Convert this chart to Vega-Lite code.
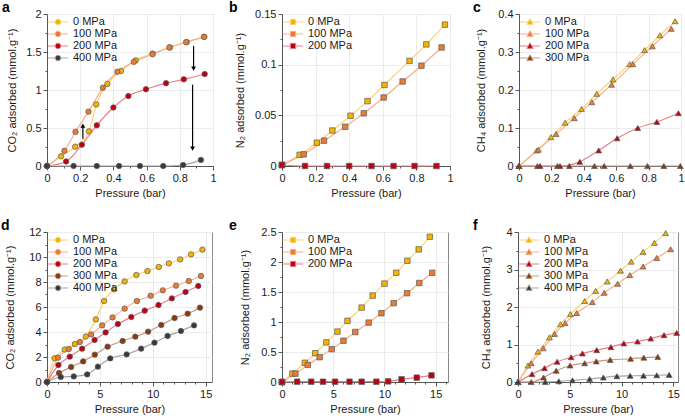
{
"$schema":"https://vega.github.io/schema/vega-lite/v6.json",
"padding":{"left":0,"top":0,"right":0,"bottom":0},
"config":{
 "font":"Liberation Sans",
 "view":{"stroke":"#8a8a8a","strokeWidth":1},
 "axis":{"labelFontSize":11,"titleFontSize":11,"labelColor":"#1a1a1a","titleColor":"#1a1a1a","titleFontWeight":"normal","domainColor":"#555","tickColor":"#555","gridColor":"#ebebeb","labelPadding":2,"titlePadding":4,"labelOverlap":false,"tickCount":100},
 "legend":{"orient":"top-left","offset":1,"padding":0,"labelOffset":8,"rowPadding":0,"symbolOffset":3,"symbolSize":160,"symbolStrokeWidth":1,"labelFontSize":11,"labelColor":"#1a1a1a"},
 "title":{"fontSize":14,"fontWeight":"bold","anchor":"start","frame":"group","offset":-7,"baseline":"alphabetic","color":"#000"}
},
"datasets":{
 "arrows":[{"x":0.216,"y":0.36,"y2":0.53,"dir":"up"},{"x":0.883,"y":1.58,"y2":1.28,"dir":"down"},{"x":0.877,"y":1.07,"y2":0.23,"dir":"down"}],
 "a":[
  {"p":"0 MPa","x":0,"y":0},{"p":"0 MPa","x":0.085,"y":0.127},{"p":"0 MPa","x":0.17,"y":0.254},{"p":"0 MPa","x":0.253,"y":0.456},{"p":"0 MPa","x":0.297,"y":0.81},{"p":"0 MPa","x":0.364,"y":1.08},{"p":"0 MPa","x":0.446,"y":1.25},{"p":"0 MPa","x":0.535,"y":1.39},{"p":"0 MPa","x":0.636,"y":1.48},{"p":"0 MPa","x":0.741,"y":1.56},{"p":"0 MPa","x":0.842,"y":1.63},{"p":"0 MPa","x":0.947,"y":1.70},
  {"p":"100 MPa","x":0,"y":0},{"p":"100 MPa","x":0.105,"y":0.20},{"p":"100 MPa","x":0.172,"y":0.45},{"p":"100 MPa","x":0.25,"y":0.715},{"p":"100 MPa","x":0.337,"y":1.03},{"p":"100 MPa","x":0.424,"y":1.24},{"p":"100 MPa","x":0.523,"y":1.37},{"p":"100 MPa","x":0.636,"y":1.47},{"p":"100 MPa","x":0.737,"y":1.56},{"p":"100 MPa","x":0.838,"y":1.63},{"p":"100 MPa","x":0.947,"y":1.70},
  {"p":"200 MPa","x":0,"y":0},{"p":"200 MPa","x":0.115,"y":0.06},{"p":"200 MPa","x":0.21,"y":0.28},{"p":"200 MPa","x":0.30,"y":0.535},{"p":"200 MPa","x":0.40,"y":0.77},{"p":"200 MPa","x":0.49,"y":0.92},{"p":"200 MPa","x":0.596,"y":1.01},{"p":"200 MPa","x":0.717,"y":1.09},{"p":"200 MPa","x":0.824,"y":1.14},{"p":"200 MPa","x":0.95,"y":1.21},
  {"p":"400 MPa","x":0,"y":0},{"p":"400 MPa","x":0.16,"y":0},{"p":"400 MPa","x":0.30,"y":0},{"p":"400 MPa","x":0.434,"y":0},{"p":"400 MPa","x":0.56,"y":0},{"p":"400 MPa","x":0.70,"y":0},{"p":"400 MPa","x":0.82,"y":0.013},{"p":"400 MPa","x":0.927,"y":0.08}
 ],
 "b":[
  {"p":"0 MPa","x":0,"y":0.001},{"p":"0 MPa","x":0.105,"y":0.011},{"p":"0 MPa","x":0.207,"y":0.023},{"p":"0 MPa","x":0.30,"y":0.035},{"p":"0 MPa","x":0.408,"y":0.0496},{"p":"0 MPa","x":0.509,"y":0.064},{"p":"0 MPa","x":0.61,"y":0.080},{"p":"0 MPa","x":0.759,"y":0.1037},{"p":"0 MPa","x":0.859,"y":0.12},{"p":"0 MPa","x":0.97,"y":0.1395},
  {"p":"100 MPa","x":0,"y":0.001},{"p":"100 MPa","x":0.129,"y":0.0115},{"p":"100 MPa","x":0.25,"y":0.025},{"p":"100 MPa","x":0.376,"y":0.0387},{"p":"100 MPa","x":0.487,"y":0.052},{"p":"100 MPa","x":0.605,"y":0.0676},{"p":"100 MPa","x":0.718,"y":0.0834},{"p":"100 MPa","x":0.83,"y":0.099},{"p":"100 MPa","x":0.95,"y":0.117},
  {"p":"200 MPa","x":0,"y":0.001},{"p":"200 MPa","x":0.137,"y":0},{"p":"200 MPa","x":0.268,"y":0},{"p":"200 MPa","x":0.40,"y":0},{"p":"200 MPa","x":0.533,"y":0},{"p":"200 MPa","x":0.664,"y":0},{"p":"200 MPa","x":0.789,"y":0},{"p":"200 MPa","x":0.92,"y":0}
 ],
 "c":[
  {"p":"0 MPa","x":0,"y":0},{"p":"0 MPa","x":0.11,"y":0.041},{"p":"0 MPa","x":0.197,"y":0.076},{"p":"0 MPa","x":0.285,"y":0.114},{"p":"0 MPa","x":0.386,"y":0.150},{"p":"0 MPa","x":0.48,"y":0.19},{"p":"0 MPa","x":0.58,"y":0.228},{"p":"0 MPa","x":0.683,"y":0.268},{"p":"0 MPa","x":0.775,"y":0.305},{"p":"0 MPa","x":0.87,"y":0.344},{"p":"0 MPa","x":0.964,"y":0.381},
  {"p":"100 MPa","x":0,"y":0},{"p":"100 MPa","x":0.12,"y":0.043},{"p":"100 MPa","x":0.229,"y":0.084},{"p":"100 MPa","x":0.341,"y":0.126},{"p":"100 MPa","x":0.45,"y":0.168},{"p":"100 MPa","x":0.572,"y":0.214},{"p":"100 MPa","x":0.703,"y":0.268},{"p":"100 MPa","x":0.823,"y":0.315},{"p":"100 MPa","x":0.94,"y":0.361},
  {"p":"200 MPa","x":0,"y":0},{"p":"200 MPa","x":0.13,"y":0},{"p":"200 MPa","x":0.253,"y":0},{"p":"200 MPa","x":0.375,"y":0.011},{"p":"200 MPa","x":0.492,"y":0.041},{"p":"200 MPa","x":0.606,"y":0.073},{"p":"200 MPa","x":0.733,"y":0.10},{"p":"200 MPa","x":0.851,"y":0.116},{"p":"200 MPa","x":0.984,"y":0.139},
  {"p":"300 MPa","x":0,"y":0},{"p":"300 MPa","x":0.114,"y":0},{"p":"300 MPa","x":0.237,"y":0},{"p":"300 MPa","x":0.311,"y":0},{"p":"300 MPa","x":0.466,"y":0},{"p":"300 MPa","x":0.526,"y":0},{"p":"300 MPa","x":0.687,"y":0},{"p":"300 MPa","x":0.793,"y":0},{"p":"300 MPa","x":0.894,"y":0},{"p":"300 MPa","x":0.996,"y":0}
 ],
 "d":[
  {"p":"0 MPa","x":0,"y":0},{"p":"0 MPa","x":0.72,"y":1.9},{"p":"0 MPa","x":1.68,"y":2.6},{"p":"0 MPa","x":2.63,"y":3.04},{"p":"0 MPa","x":3.67,"y":3.64},{"p":"0 MPa","x":4.62,"y":5.01},{"p":"0 MPa","x":5.4,"y":6.48},{"p":"0 MPa","x":6.35,"y":7.41},{"p":"0 MPa","x":7.34,"y":8.05},{"p":"0 MPa","x":8.45,"y":8.56},{"p":"0 MPa","x":9.5,"y":8.88},{"p":"0 MPa","x":10.57,"y":9.2},{"p":"0 MPa","x":11.52,"y":9.49},{"p":"0 MPa","x":12.6,"y":9.81},{"p":"0 MPa","x":13.62,"y":10.21},{"p":"0 MPa","x":14.7,"y":10.59},
  {"p":"100 MPa","x":0,"y":0},{"p":"100 MPa","x":1.04,"y":1.95},{"p":"100 MPa","x":2.06,"y":2.64},{"p":"100 MPa","x":3.1,"y":3.2},{"p":"100 MPa","x":4.18,"y":3.81},{"p":"100 MPa","x":5.22,"y":4.53},{"p":"100 MPa","x":6.2,"y":5.17},{"p":"100 MPa","x":7.34,"y":5.87},{"p":"100 MPa","x":8.5,"y":6.48},{"p":"100 MPa","x":9.8,"y":6.9},{"p":"100 MPa","x":10.95,"y":7.33},{"p":"100 MPa","x":12.2,"y":7.71},{"p":"100 MPa","x":13.4,"y":8.08},{"p":"100 MPa","x":14.56,"y":8.48},
  {"p":"200 MPa","x":0,"y":0},{"p":"200 MPa","x":1.08,"y":1.36},{"p":"200 MPa","x":2.15,"y":2.03},{"p":"200 MPa","x":3.32,"y":2.67},{"p":"200 MPa","x":4.5,"y":3.36},{"p":"200 MPa","x":5.54,"y":3.97},{"p":"200 MPa","x":6.7,"y":4.64},{"p":"200 MPa","x":7.97,"y":5.2},{"p":"200 MPa","x":9.24,"y":5.71},{"p":"200 MPa","x":10.54,"y":6.16},{"p":"200 MPa","x":11.8,"y":6.69},{"p":"200 MPa","x":13.1,"y":7.2},{"p":"200 MPa","x":14.3,"y":7.68},
  {"p":"300 MPa","x":0,"y":0},{"p":"300 MPa","x":1.14,"y":0.72},{"p":"300 MPa","x":2.28,"y":1.2},{"p":"300 MPa","x":3.42,"y":1.65},{"p":"300 MPa","x":4.52,"y":2.19},{"p":"300 MPa","x":5.73,"y":2.83},{"p":"300 MPa","x":7.15,"y":3.28},{"p":"300 MPa","x":8.35,"y":3.63},{"p":"300 MPa","x":9.56,"y":4.03},{"p":"300 MPa","x":10.8,"y":4.56},{"p":"300 MPa","x":12.06,"y":5.12},{"p":"300 MPa","x":13.3,"y":5.47},{"p":"300 MPa","x":14.46,"y":5.95},
  {"p":"400 MPa","x":0,"y":0},{"p":"400 MPa","x":1.3,"y":0.4},{"p":"400 MPa","x":2.53,"y":0.45},{"p":"400 MPa","x":3.8,"y":0.61},{"p":"400 MPa","x":4.81,"y":1.23},{"p":"400 MPa","x":5.98,"y":1.89},{"p":"400 MPa","x":7.53,"y":2.21},{"p":"400 MPa","x":8.9,"y":2.67},{"p":"400 MPa","x":10.16,"y":3.15},{"p":"400 MPa","x":11.4,"y":3.68},{"p":"400 MPa","x":12.66,"y":4.08},{"p":"400 MPa","x":13.9,"y":4.53}
 ],
 "e":[
  {"p":"0 MPa","x":0,"y":0},{"p":"0 MPa","x":1.02,"y":0.14},{"p":"0 MPa","x":2.23,"y":0.32},{"p":"0 MPa","x":3.25,"y":0.48},{"p":"0 MPa","x":4.33,"y":0.66},{"p":"0 MPa","x":5.41,"y":0.84},{"p":"0 MPa","x":6.39,"y":1.02},{"p":"0 MPa","x":7.77,"y":1.24},{"p":"0 MPa","x":8.85,"y":1.44},{"p":"0 MPa","x":10.0,"y":1.64},{"p":"0 MPa","x":11.15,"y":1.82},{"p":"0 MPa","x":12.23,"y":2.02},{"p":"0 MPa","x":13.34,"y":2.21},{"p":"0 MPa","x":14.43,"y":2.42},
  {"p":"100 MPa","x":0,"y":0},{"p":"100 MPa","x":1.31,"y":0.14},{"p":"100 MPa","x":2.52,"y":0.285},{"p":"100 MPa","x":3.67,"y":0.414},{"p":"100 MPa","x":4.85,"y":0.548},{"p":"100 MPa","x":6.0,"y":0.688},{"p":"100 MPa","x":7.15,"y":0.833},{"p":"100 MPa","x":8.46,"y":0.99},{"p":"100 MPa","x":9.7,"y":1.146},{"p":"100 MPa","x":10.9,"y":1.314},{"p":"100 MPa","x":12.2,"y":1.48},{"p":"100 MPa","x":13.4,"y":1.65},{"p":"100 MPa","x":14.66,"y":1.82},
  {"p":"200 MPa","x":0,"y":0},{"p":"200 MPa","x":1.48,"y":0.005},{"p":"200 MPa","x":2.85,"y":0.005},{"p":"200 MPa","x":4.0,"y":0.005},{"p":"200 MPa","x":5.18,"y":0.005},{"p":"200 MPa","x":6.59,"y":0.005},{"p":"200 MPa","x":7.77,"y":0.005},{"p":"200 MPa","x":9.21,"y":0.005},{"p":"200 MPa","x":10.36,"y":0.01},{"p":"200 MPa","x":11.67,"y":0.045},{"p":"200 MPa","x":13.15,"y":0.073},{"p":"200 MPa","x":14.59,"y":0.11}
 ],
 "f":[
  {"p":"0 MPa","x":0,"y":0},{"p":"0 MPa","x":0.96,"y":0.44},{"p":"0 MPa","x":1.92,"y":0.81},{"p":"0 MPa","x":3.04,"y":1.19},{"p":"0 MPa","x":4.1,"y":1.54},{"p":"0 MPa","x":5.06,"y":1.81},{"p":"0 MPa","x":6.44,"y":2.16},{"p":"0 MPa","x":7.5,"y":2.43},{"p":"0 MPa","x":8.62,"y":2.68},{"p":"0 MPa","x":9.9,"y":2.97},{"p":"0 MPa","x":10.93,"y":3.21},{"p":"0 MPa","x":12.08,"y":3.47},{"p":"0 MPa","x":13.17,"y":3.71},{"p":"0 MPa","x":14.26,"y":3.97},
  {"p":"100 MPa","x":0,"y":0},{"p":"100 MPa","x":1.28,"y":0.5},{"p":"100 MPa","x":2.44,"y":0.9},{"p":"100 MPa","x":3.53,"y":1.28},{"p":"100 MPa","x":4.55,"y":1.57},{"p":"100 MPa","x":5.67,"y":1.84},{"p":"100 MPa","x":7.18,"y":2.13},{"p":"100 MPa","x":8.33,"y":2.38},{"p":"100 MPa","x":9.62,"y":2.62},{"p":"100 MPa","x":10.8,"y":2.85},{"p":"100 MPa","x":12.08,"y":3.08},{"p":"100 MPa","x":13.4,"y":3.31},{"p":"100 MPa","x":14.74,"y":3.54},
  {"p":"200 MPa","x":0,"y":0},{"p":"200 MPa","x":1.35,"y":0.21},{"p":"200 MPa","x":2.56,"y":0.37},{"p":"200 MPa","x":3.78,"y":0.54},{"p":"200 MPa","x":5.13,"y":0.66},{"p":"200 MPa","x":6.22,"y":0.76},{"p":"200 MPa","x":7.6,"y":0.85},{"p":"200 MPa","x":8.97,"y":0.93},{"p":"200 MPa","x":10.22,"y":1.03},{"p":"200 MPa","x":11.54,"y":1.08},{"p":"200 MPa","x":12.82,"y":1.16},{"p":"200 MPa","x":14.1,"y":1.25},{"p":"200 MPa","x":15.32,"y":1.31},
  {"p":"300 MPa","x":0,"y":0},{"p":"300 MPa","x":1.28,"y":0},{"p":"300 MPa","x":2.47,"y":0.12},{"p":"300 MPa","x":3.69,"y":0.30},{"p":"300 MPa","x":5.03,"y":0.44},{"p":"300 MPa","x":6.44,"y":0.5},{"p":"300 MPa","x":7.56,"y":0.55},{"p":"300 MPa","x":8.9,"y":0.59},{"p":"300 MPa","x":10.87,"y":0.62},{"p":"300 MPa","x":12.15,"y":0.65},{"p":"300 MPa","x":13.5,"y":0.67},
  {"p":"400 MPa","x":0,"y":0},{"p":"400 MPa","x":2.63,"y":0},{"p":"400 MPa","x":3.94,"y":0.02},{"p":"400 MPa","x":5.26,"y":0.045},{"p":"400 MPa","x":6.92,"y":0.08},{"p":"400 MPa","x":8.24,"y":0.12},{"p":"400 MPa","x":9.55,"y":0.155},{"p":"400 MPa","x":10.83,"y":0.165},{"p":"400 MPa","x":12.12,"y":0.17},{"p":"400 MPa","x":13.4,"y":0.18},{"p":"400 MPa","x":14.6,"y":0.19}
 ]
},
"spacing":19,
"resolve":{"scale":{"color":"independent","fill":"independent","shape":"independent"},"legend":{"color":"independent","fill":"independent","shape":"independent"}},
"vconcat":[
 {"spacing":69,"bounds":"flush",
  "resolve":{"scale":{"color":"independent","fill":"independent","shape":"independent"},"legend":{"color":"independent","fill":"independent","shape":"independent"}},
  "hconcat":[
  {"width":166,"height":152,"title":{"text":"a","dx":-45},"data":{"name":"a"},
   "layer":[
    {"mark":{"type":"line","interpolate":"monotone","strokeWidth":1.2},
     "encoding":{
      "x":{"field":"x","type":"quantitative","scale":{"domain":[0,1],"nice":false},
       "axis":{"title":"Pressure (bar)","labelFlush":false,"values":[0,0.1,0.2,0.3,0.4,0.5,0.6,0.7,0.8,0.9,1],"labelExpr":"abs(datum.value/0.2-round(datum.value/0.2))<0.01 ? ''+datum.value : ''","tickSize":{"condition":{"test":"abs(datum.value/0.2-round(datum.value/0.2))>0.01","value":2},"value":4},"gridOpacity":{"condition":{"test":"abs(datum.value/0.2-round(datum.value/0.2))>0.01","value":0},"value":1}}},
      "y":{"field":"y","type":"quantitative","scale":{"domain":[0,2],"nice":false},
       "axis":{"title":"CO₂ adsorbed (mmol.g⁻¹)","titlePadding":8,"values":[0,0.25,0.5,0.75,1,1.25,1.5,1.75,2],"labelExpr":"abs(datum.value/0.5-round(datum.value/0.5))<0.01 ? ''+datum.value : ''","tickSize":{"condition":{"test":"abs(datum.value/0.5-round(datum.value/0.5))>0.01","value":2},"value":4},"gridOpacity":{"condition":{"test":"abs(datum.value/0.5-round(datum.value/0.5))>0.01","value":0},"value":1}}},
      "color":{"field":"p","type":"nominal","scale":{"domain":["0 MPa","100 MPa","200 MPa","400 MPa"],"range":["#fcd27a","#f5b08c","#e8808a","#a6a6a6"]},"legend":{"title":null,"symbolType":"M-1.6,0H-0.45M0.45,0H1.6M0.45,0A0.45,0.45,0,1,1,-0.45,0A0.45,0.45,0,1,1,0.45,0Z"}}}},
    {"mark":{"type":"point","filled":true,"shape":"circle","size":30,"stroke":"#5a5a5a","strokeWidth":0.7,"opacity":1},
     "encoding":{"x":{"field":"x","type":"quantitative"},"y":{"field":"y","type":"quantitative"},
      "fill":{"field":"p","type":"nominal","scale":{"domain":["0 MPa","100 MPa","200 MPa","400 MPa"],"range":["#f5b400","#ec7a35","#c00010","#3a3a3a"]},"legend":{"title":null,"symbolType":"M-1.6,0H-0.45M0.45,0H1.6M0.45,0A0.45,0.45,0,1,1,-0.45,0A0.45,0.45,0,1,1,0.45,0Z"}}}},
    {"data":{"name":"arrows"},"mark":{"type":"rule","color":"#000","strokeWidth":1.2},
     "encoding":{"x":{"field":"x","type":"quantitative"},"y":{"field":"y","type":"quantitative"},"y2":{"field":"y2"}}},
    {"data":{"name":"arrows"},"mark":{"type":"point","filled":true,"color":"#000","size":24,"opacity":1},
     "encoding":{"x":{"field":"x","type":"quantitative"},"y":{"field":"y2","type":"quantitative"},"shape":{"field":"dir","type":"nominal","scale":{"domain":["up","down"],"range":["triangle-up","triangle-down"]},"legend":null}}}
   ]},
  {"width":168,"height":152,"title":{"text":"b","dx":-53},"data":{"name":"b"},
   "layer":[
    {"mark":{"type":"line","interpolate":"monotone","strokeWidth":1.2},
     "encoding":{
      "x":{"field":"x","type":"quantitative","scale":{"domain":[0,1],"nice":false},
       "axis":{"title":"Pressure (bar)","labelFlush":false,"values":[0,0.1,0.2,0.3,0.4,0.5,0.6,0.7,0.8,0.9,1],"labelExpr":"abs(datum.value/0.2-round(datum.value/0.2))<0.01 ? ''+datum.value : ''","tickSize":{"condition":{"test":"abs(datum.value/0.2-round(datum.value/0.2))>0.01","value":2},"value":4},"gridOpacity":{"condition":{"test":"abs(datum.value/0.2-round(datum.value/0.2))>0.01","value":0},"value":1}}},
      "y":{"field":"y","type":"quantitative","scale":{"domain":[0,0.15],"nice":false},
       "axis":{"title":"N₂ adsorbed (mmol.g⁻¹)","titlePadding":9,"values":[0,0.025,0.05,0.075,0.1,0.125,0.15],"labelExpr":"abs(datum.value/0.05-round(datum.value/0.05))<0.01 ? ''+datum.value : ''","tickSize":{"condition":{"test":"abs(datum.value/0.05-round(datum.value/0.05))>0.01","value":2},"value":4},"gridOpacity":{"condition":{"test":"abs(datum.value/0.05-round(datum.value/0.05))>0.01","value":0},"value":1}}},
      "color":{"field":"p","type":"nominal","scale":{"domain":["0 MPa","100 MPa","200 MPa"],"range":["#fcd27a","#f5b08c","#e8808a"]},"legend":{"title":null,"symbolType":"M-1.6,0H-0.42M0.42,0H1.6M-0.42,-0.42H0.42V0.42H-0.42Z"}}}},
    {"mark":{"type":"point","filled":true,"shape":"square","size":30,"stroke":"#5a5a5a","strokeWidth":0.7,"opacity":1},
     "encoding":{"x":{"field":"x","type":"quantitative"},"y":{"field":"y","type":"quantitative"},
      "fill":{"field":"p","type":"nominal","scale":{"domain":["0 MPa","100 MPa","200 MPa"],"range":["#f5b400","#ec7a35","#c00010"]},"legend":{"title":null,"symbolType":"M-1.6,0H-0.42M0.42,0H1.6M-0.42,-0.42H0.42V0.42H-0.42Z"}}}}
   ]},
  {"width":162,"height":152,"title":{"text":"c","dx":-46},"data":{"name":"c"},
   "layer":[
    {"mark":{"type":"line","interpolate":"monotone","strokeWidth":1.2},
     "encoding":{
      "x":{"field":"x","type":"quantitative","scale":{"domain":[0,1],"nice":false},
       "axis":{"title":"Pressure (bar)","labelFlush":false,"values":[0,0.1,0.2,0.3,0.4,0.5,0.6,0.7,0.8,0.9,1],"labelExpr":"abs(datum.value/0.2-round(datum.value/0.2))<0.01 ? ''+datum.value : ''","tickSize":{"condition":{"test":"abs(datum.value/0.2-round(datum.value/0.2))>0.01","value":2},"value":4},"gridOpacity":{"condition":{"test":"abs(datum.value/0.2-round(datum.value/0.2))>0.01","value":0},"value":1}}},
      "y":{"field":"y","type":"quantitative","scale":{"domain":[0,0.4],"nice":false},
       "axis":{"title":"CH₄ adsorbed (mmol.g⁻¹)","titlePadding":11,"values":[0,0.05,0.1,0.15,0.2,0.25,0.3,0.35,0.4],"labelExpr":"abs(datum.value/0.1-round(datum.value/0.1))<0.01 ? ''+datum.value : ''","tickSize":{"condition":{"test":"abs(datum.value/0.1-round(datum.value/0.1))>0.01","value":2},"value":4},"gridOpacity":{"condition":{"test":"abs(datum.value/0.1-round(datum.value/0.1))>0.01","value":0},"value":1}}},
      "color":{"field":"p","type":"nominal","scale":{"domain":["0 MPa","100 MPa","200 MPa","300 MPa"],"range":["#fcd27a","#f5b08c","#e8808a","#c79a85"]},"legend":{"title":null,"symbolType":"M-1.6,0H-0.3M0.3,0H1.6M0,-0.5L0.5,0.38H-0.5Z"}}}},
    {"mark":{"type":"point","filled":true,"shape":"triangle-up","size":34,"stroke":"#5a5a5a","strokeWidth":0.7,"opacity":1},
     "encoding":{"x":{"field":"x","type":"quantitative"},"y":{"field":"y","type":"quantitative"},
      "fill":{"field":"p","type":"nominal","scale":{"domain":["0 MPa","100 MPa","200 MPa","300 MPa"],"range":["#f5b400","#ec7a35","#c00010","#8b3a0c"]},"legend":{"title":null,"symbolType":"M-1.6,0H-0.3M0.3,0H1.6M0,-0.5L0.5,0.38H-0.5Z"}}}}
   ]}
 ]},
 {"spacing":70,"bounds":"flush",
  "resolve":{"scale":{"color":"independent","fill":"independent"},"legend":{"color":"independent","fill":"independent"}},
  "hconcat":[
  {"width":165,"height":150,"title":{"text":"d","dx":-46},"data":{"name":"d"},
   "layer":[
    {"mark":{"type":"line","interpolate":"monotone","strokeWidth":1.2},
     "encoding":{
      "x":{"field":"x","type":"quantitative","scale":{"domain":[0,15.6],"nice":false},
       "axis":{"title":"Pressure (bar)","labelFlush":false,"values":[0,1,2,3,4,5,6,7,8,9,10,11,12,13,14,15],"labelExpr":"datum.value % 5 == 0 ? ''+datum.value : ''","tickSize":{"condition":{"test":"datum.value % 5 != 0","value":2},"value":4},"gridOpacity":{"condition":{"test":"datum.value % 5 != 0","value":0},"value":1}}},
      "y":{"field":"y","type":"quantitative","scale":{"domain":[0,12],"nice":false},
       "axis":{"title":"CO₂ adsorbed (mmol.g⁻¹)","titlePadding":13,"values":[0,1,2,3,4,5,6,7,8,9,10,11,12],"labelExpr":"datum.value % 2 == 0 ? ''+datum.value : ''","tickSize":{"condition":{"test":"datum.value % 2 != 0","value":2},"value":4},"gridOpacity":{"condition":{"test":"datum.value % 2 != 0","value":0},"value":1}}},
      "color":{"field":"p","type":"nominal","scale":{"domain":["0 MPa","100 MPa","200 MPa","300 MPa","400 MPa"],"range":["#fcd27a","#f5b08c","#e8808a","#c79a85","#a6a6a6"]},"legend":{"title":null,"symbolType":"M-1.6,0H-0.45M0.45,0H1.6M0.45,0A0.45,0.45,0,1,1,-0.45,0A0.45,0.45,0,1,1,0.45,0Z"}}}},
    {"mark":{"type":"point","filled":true,"shape":"circle","size":30,"stroke":"#5a5a5a","strokeWidth":0.7,"opacity":1},
     "encoding":{"x":{"field":"x","type":"quantitative"},"y":{"field":"y","type":"quantitative"},
      "fill":{"field":"p","type":"nominal","scale":{"domain":["0 MPa","100 MPa","200 MPa","300 MPa","400 MPa"],"range":["#f5b400","#ec7a35","#c00010","#8b3a0c","#3a3a3a"]},"legend":{"title":null,"symbolType":"M-1.6,0H-0.45M0.45,0H1.6M0.45,0A0.45,0.45,0,1,1,-0.45,0A0.45,0.45,0,1,1,0.45,0Z"}}}}
   ]},
  {"width":166,"height":150,"title":{"text":"e","dx":-53},"data":{"name":"e"},
   "layer":[
    {"mark":{"type":"line","interpolate":"monotone","strokeWidth":1.2},
     "encoding":{
      "x":{"field":"x","type":"quantitative","scale":{"domain":[0,16.2],"nice":false},
       "axis":{"title":"Pressure (bar)","labelFlush":false,"values":[0,1,2,3,4,5,6,7,8,9,10,11,12,13,14,15,16],"labelExpr":"datum.value % 5 == 0 ? ''+datum.value : ''","tickSize":{"condition":{"test":"datum.value % 5 != 0","value":2},"value":4},"gridOpacity":{"condition":{"test":"datum.value % 5 != 0","value":0},"value":1}}},
      "y":{"field":"y","type":"quantitative","scale":{"domain":[0,2.5],"nice":false},
       "axis":{"title":"N₂ adsorbed (mmol.g⁻¹)","titlePadding":10,"values":[0,0.25,0.5,0.75,1,1.25,1.5,1.75,2,2.25,2.5],"labelExpr":"abs(datum.value/0.5-round(datum.value/0.5))<0.01 ? ''+datum.value : ''","tickSize":{"condition":{"test":"abs(datum.value/0.5-round(datum.value/0.5))>0.01","value":2},"value":4},"gridOpacity":{"condition":{"test":"abs(datum.value/0.5-round(datum.value/0.5))>0.01","value":0},"value":1}}},
      "color":{"field":"p","type":"nominal","scale":{"domain":["0 MPa","100 MPa","200 MPa"],"range":["#fcd27a","#f5b08c","#e8808a"]},"legend":{"title":null,"symbolType":"M-1.6,0H-0.42M0.42,0H1.6M-0.42,-0.42H0.42V0.42H-0.42Z"}}}},
    {"mark":{"type":"point","filled":true,"shape":"square","size":30,"stroke":"#5a5a5a","strokeWidth":0.7,"opacity":1},
     "encoding":{"x":{"field":"x","type":"quantitative"},"y":{"field":"y","type":"quantitative"},
      "fill":{"field":"p","type":"nominal","scale":{"domain":["0 MPa","100 MPa","200 MPa"],"range":["#f5b400","#ec7a35","#c00010"]},"legend":{"title":null,"symbolType":"M-1.6,0H-0.42M0.42,0H1.6M-0.42,-0.42H0.42V0.42H-0.42Z"}}}}
   ]},
  {"width":160,"height":150,"title":{"text":"f","dx":-45},"data":{"name":"f"},
   "layer":[
    {"mark":{"type":"line","interpolate":"monotone","strokeWidth":1.2},
     "encoding":{
      "x":{"field":"x","type":"quantitative","scale":{"domain":[0,15.45],"nice":false},
       "axis":{"title":"Pressure (bar)","labelFlush":false,"values":[0,1,2,3,4,5,6,7,8,9,10,11,12,13,14,15],"labelExpr":"datum.value % 5 == 0 ? ''+datum.value : ''","tickSize":{"condition":{"test":"datum.value % 5 != 0","value":2},"value":4},"gridOpacity":{"condition":{"test":"datum.value % 5 != 0","value":0},"value":1}}},
      "y":{"field":"y","type":"quantitative","scale":{"domain":[0,4],"nice":false},
       "axis":{"title":"CH₄ adsorbed (mmol.g⁻¹)","titlePadding":14,"values":[0,0.5,1,1.5,2,2.5,3,3.5,4],"labelExpr":"datum.value % 1 == 0 ? ''+datum.value : ''","tickSize":{"condition":{"test":"datum.value % 1 != 0","value":2},"value":4},"gridOpacity":{"condition":{"test":"datum.value % 1 != 0","value":0},"value":1}}},
      "color":{"field":"p","type":"nominal","scale":{"domain":["0 MPa","100 MPa","200 MPa","300 MPa","400 MPa"],"range":["#fcd27a","#f5b08c","#e8808a","#c79a85","#a6a6a6"]},"legend":{"title":null,"symbolType":"M-1.6,0H-0.3M0.3,0H1.6M0,-0.5L0.5,0.38H-0.5Z"}}}},
    {"mark":{"type":"point","filled":true,"shape":"triangle-up","size":34,"stroke":"#5a5a5a","strokeWidth":0.7,"opacity":1},
     "encoding":{"x":{"field":"x","type":"quantitative"},"y":{"field":"y","type":"quantitative"},
      "fill":{"field":"p","type":"nominal","scale":{"domain":["0 MPa","100 MPa","200 MPa","300 MPa","400 MPa"],"range":["#f5b400","#ec7a35","#c00010","#8b3a0c","#3a3a3a"]},"legend":{"title":null,"symbolType":"M-1.6,0H-0.3M0.3,0H1.6M0,-0.5L0.5,0.38H-0.5Z"}}}}
   ]}
 ]}
]
}
